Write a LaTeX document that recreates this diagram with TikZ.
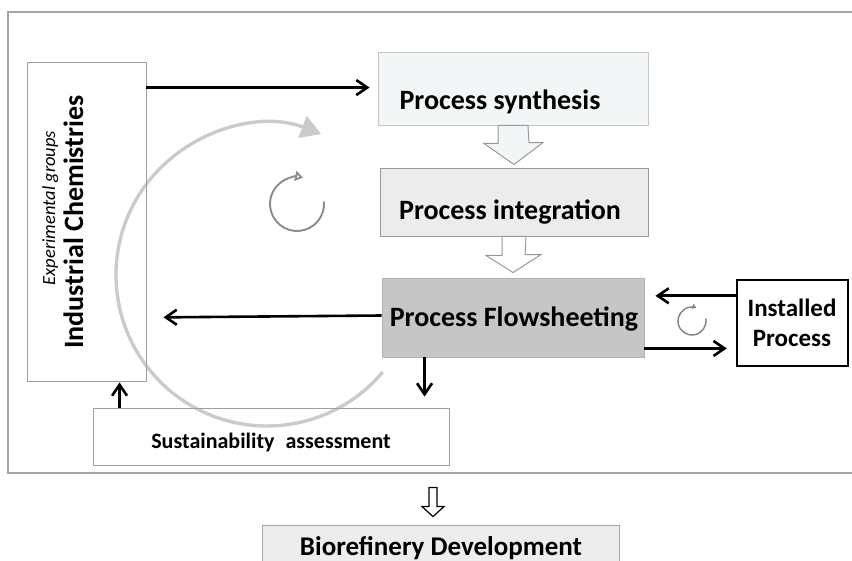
\documentclass[tikz,border=0pt]{standalone}
\usepackage{fontspec}
\setmainfont{Carlito}
\usetikzlibrary{positioning,calc,arrows.meta}

\definecolor{synfill}{HTML}{F2F6F7}
\definecolor{intfill}{HTML}{ECECEC}
\definecolor{flowfill}{HTML}{C6C6C6}
\definecolor{biofill}{HTML}{EDEDED}
\definecolor{loopgray}{HTML}{CBCBCB}

\begin{document}
\begin{tikzpicture}[x=1pt,y=-1pt,
  box/.style={rectangle, draw=gray!75, line width=0.9pt, inner sep=0pt},
  lbl/.style={inner sep=0pt, font=\bfseries},
  conn/.style={line width=2.6pt, -{Straight Barb[length=11pt,width=15pt]}},
  block/.style={draw=gray!80, line width=1pt, line join=miter}]
\useasboundingbox (0,0) rectangle (852,561);

% outer frame (runs off the right edge)
\draw[gray!70, line width=1.8pt] (853,12) -- (8,12) -- (8,473) -- (853,473);

% big feedback loop
\def\cx{267}
\def\cy{275}
\draw[loopgray, line width=3.4pt, -{Triangle[length=20pt,width=23pt]}]
  (\cx,\cy) ++(40:151) arc[start angle=40, end angle=291, radius=151];

% boxes
\node[box, minimum width=119pt, minimum height=319pt] (chem) at (86.5,221.5) {};
\node[box, draw=gray!45, fill=synfill, minimum width=270pt, minimum height=73pt] (syn) at (513,88.5) {};
\node[box, draw=gray!80, fill=intfill, minimum width=268pt, minimum height=68pt] (int) at (514,202) {};
\node[box, draw=gray!60, fill=flowfill, minimum width=262pt, minimum height=79pt] (flow) at (513,317.5) {};
\node[box, draw=black, line width=2.4pt, minimum width=111pt, minimum height=86pt] (inst) at (792.5,323) {};
\node[box, minimum width=356pt, minimum height=57pt] (sust) at (271,436.5) {};
\node[box, draw=gray!70, fill=biofill, minimum width=357pt, minimum height=60pt] (bio) at (441,555) {};

% texts
\node[lbl, anchor=base] (syntxt) at (500,110) {\fontsize{28}{30}\selectfont Process synthesis};
\node[lbl, anchor=base] (inttxt) at (510,220) {\fontsize{28}{30}\selectfont Process integration};
\node[lbl, anchor=base] (flowtxt) at (514,327) {\fontsize{28}{30}\selectfont Process Flowsheeting};
\node[lbl, align=center, font=\bfseries\fontsize{25}{30}\selectfont] (insttxt) at (792,323) {Installed\\Process};
\node[lbl, anchor=base] (susttxt) at (271,449) {\fontsize{22}{24}\selectfont Sustainability\hspace{0.5em}assessment};
\node[lbl, anchor=base] (biotxt) at (441,555) {\fontsize{27}{30}\selectfont Biorefinery Development};
\node[lbl, anchor=base, rotate=90] (chemtxt) at (83,222) {\fontsize{28}{30}\selectfont Industrial Chemistries};
\node[inner sep=0pt, anchor=base, rotate=90] (exptxt) at (55,208) {\fontsize{18.5}{20}\selectfont\itshape Experimental groups};

% block arrows
\draw[block, fill=synfill] ([xshift=-15pt]syn.south) -- ++(0,18) -- ++(-14,0)
  -- ([yshift=3pt]int.north) -- ++(29,-22) -- ++(-14,0) -- ([xshift=15pt]syn.south) -- cycle;
\draw[block, fill=white] ([xshift=-12pt]int.south) -- ++(0,19) -- ++(-16,0)
  -- ([yshift=5pt]flow.north) -- ++(28,-18) -- ++(-16,0) -- ([xshift=12pt]int.south) -- cycle;
\draw[black, line width=1.2pt, fill=white] ([xshift=-12pt,yshift=37pt]bio.north) -- ++(0,19) -- ++(-7,0)
  -- ([xshift=-8pt,yshift=8pt]bio.north) -- ++(11,-10) -- ++(-7,0) -- ++(0,-19) -- cycle;

% connectors
\coordinate (chemout) at ([yshift=-26pt]chem.north east);
\draw[conn, shorten >=8pt] (chemout) -- (syn.west |- chemout);
\draw[conn, shorten >=17pt] ([yshift=2pt]flow.west) -- (chem.east |- flow.west);
\coordinate (flowdown) at ([xshift=43pt]flow.south west);
\draw[conn, shorten >=11pt] (flowdown) -- (flowdown |- sust.north);
\coordinate (sustup) at ([xshift=27pt]sust.north west);
\draw[conn, shorten >=1pt] (sustup) -- (sustup |- chem.south);
\coordinate (instin) at ([yshift=-17pt]inst.north west);
\draw[conn, shorten >=11pt] (instin) -- (flow.east |- instin);
\coordinate (flowout) at ([yshift=9pt]flow.south east);
\draw[conn, shorten >=9pt] (flowout) -- (inst.west |- flowout);

% small loops
\draw[gray!90, line width=1.9pt, -{Triangle[open, fill=white, length=8pt, width=10pt]}]
  (297,204) ++(-5:27) arc[start angle=-5, end angle=283, radius=27];
\draw[gray, line width=1.4pt, -{Triangle[length=4pt, width=5pt]}]
  (692,321) ++(-10:14) arc[start angle=-10, end angle=288, radius=14];
\end{tikzpicture}
\end{document}
